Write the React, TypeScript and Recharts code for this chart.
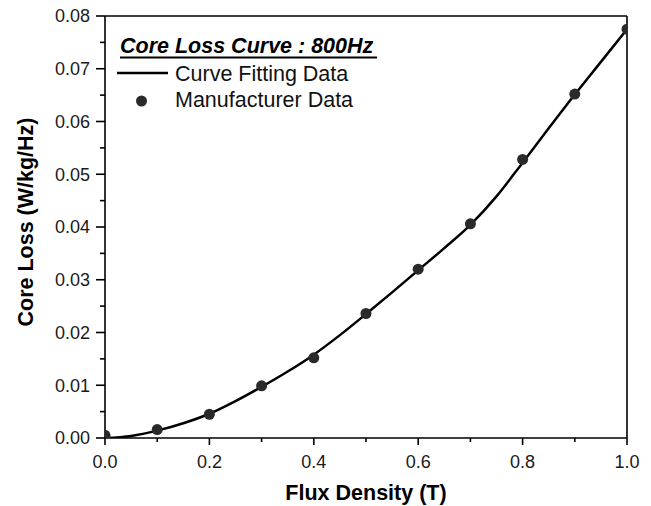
import React from 'react';
import { ComposedChart, Line, Scatter, XAxis, YAxis, ReferenceLine, Legend } from 'recharts';

const FONT = '"Liberation Sans", Arial, Helvetica, sans-serif';

// Manufacturer data (points)
const MFR_B = [0, 0.1, 0.2, 0.3, 0.4, 0.5, 0.6, 0.7, 0.8, 0.9, 1.0];
const MFR_LOSS = [0.0005, 0.0016, 0.0045, 0.0099, 0.0152, 0.0236, 0.032, 0.0406, 0.0528, 0.0652, 0.0775];

// Curve fitting data (line)
const FIT_B = [0, 0.05, 0.1, 0.15, 0.2, 0.25, 0.3, 0.35, 0.4, 0.45, 0.5, 0.55, 0.6, 0.65, 0.7, 0.75, 0.8, 0.85, 0.9, 0.95, 1.0];
const FIT_LOSS = [0, 0.0004, 0.0014, 0.0028, 0.0046, 0.007, 0.0097, 0.0126, 0.0158, 0.0195, 0.0235, 0.0276, 0.0318, 0.036, 0.0404, 0.0458, 0.0522, 0.0587, 0.0651, 0.0713, 0.0775];

const X_TICKS = [0, 0.1, 0.2, 0.3, 0.4, 0.5, 0.6, 0.7, 0.8, 0.9, 1.0];
const Y_TICKS = [0, 0.005, 0.01, 0.015, 0.02, 0.025, 0.03, 0.035, 0.04, 0.045, 0.05, 0.055, 0.06, 0.065, 0.07, 0.075, 0.08];

const LEGEND_TITLE = 'Core Loss Curve : 800Hz';
const FIT_NAME = 'Curve Fitting Data';
const MFR_NAME = 'Manufacturer Data';
const X_TITLE = 'Flux Density (T)';
const Y_TITLE = 'Core Loss (W/kg/Hz)';

const mfrData = MFR_B.map((b, i) => ({ x: b, y: MFR_LOSS[i] }));
const fitData = FIT_B.map((b, i) => ({ x: b, y: FIT_LOSS[i] }));

const XTick = (props: any) => {
  const { x, y, payload } = props;
  const v = payload.value;
  const major = Math.round(v * 10) % 2 === 0;
  return (
    <g>
      <line x1={x} x2={x} y1={y} y2={y + (major ? 7 : 4)} stroke="#000" strokeWidth={1.6} />
      {major && (
        <text x={x} y={y + 30} textAnchor="middle" fontFamily={FONT} fontSize={18} fill="#1a1a1a">
          {v.toFixed(1)}
        </text>
      )}
    </g>
  );
};

const YTick = (props: any) => {
  const { x, y, payload } = props;
  const v = payload.value;
  const major = Math.abs(Math.round(v * 100) - v * 100) < 1e-6;
  return (
    <g>
      <line x1={x - (major ? 9 : 5)} x2={x} y1={y} y2={y} stroke="#000" strokeWidth={1.6} />
      {major && (
        <text x={x - 15} y={y} dy="0.36em" textAnchor="end" fontFamily={FONT} fontSize={18} fill="#1a1a1a">
          {v.toFixed(2)}
        </text>
      )}
    </g>
  );
};

const renderLegend = () => (
  <svg width={290} height={100} style={{ display: 'block' }}>
    <text x={20} y={33} fontFamily={FONT} fontSize={21.5} fontWeight="bold" fontStyle="italic" fill="#000">
      {LEGEND_TITLE}
    </text>
    <line x1={20} x2={277} y1={37.5} y2={37.5} stroke="#000" strokeWidth={2} />
    <line x1={17} x2={68} y1={53} y2={53} stroke="#000" strokeWidth={2.5} />
    <text x={75} y={61} fontFamily={FONT} fontSize={21.5} fill="#111">
      {FIT_NAME}
    </text>
    <circle cx={41.5} cy={81} r={5.5} fill="#2a2a2a" />
    <text x={75} y={87} fontFamily={FONT} fontSize={21.5} fill="#111">
      {MFR_NAME}
    </text>
  </svg>
);

const Dot = (props: any) => {
  const { cx, cy } = props;
  return <circle cx={cx} cy={cy} r={5.5} fill="#2a2a2a" />;
};

const YTitle = () => {
  const cx = 25;
  const cy = 222;
  return (
    <text
      x={cx}
      y={cy}
      dy="0.36em"
      transform={`rotate(-90 ${cx} ${cy})`}
      textAnchor="middle"
      fontFamily={FONT}
      fontSize={21.5}
      fontWeight="bold"
      fill="#000"
    >
      {Y_TITLE}
    </text>
  );
};

const XTitle = (props: any) => {
  const vb = props.viewBox;
  return (
    <text x={vb.x + vb.width / 2} y={500} textAnchor="middle" fontFamily={FONT} fontSize={21.5} fontWeight="bold" fill="#000">
      {X_TITLE}
    </text>
  );
};

export default function App() {
  return (
    <div style={{ position: 'absolute', left: 0, top: 0, width: 651, height: 506, background: '#fff' }}>
      <ComposedChart width={651} height={506} margin={{ top: 16, right: 24, bottom: 0, left: 0 }}>
        <XAxis
          type="number"
          dataKey="x"
          domain={[0, 1]}
          ticks={X_TICKS}
          allowDataOverflow
          height={68}
          tickSize={0}
          tickMargin={0}
          tick={<XTick />}
          axisLine={{ stroke: '#000', strokeWidth: 1.6 }}
          tickLine={false}
          interval={0}
          label={<XTitle />}
        />
        <YAxis
          type="number"
          dataKey="y"
          domain={[0, 0.08]}
          ticks={Y_TICKS}
          allowDataOverflow
          width={105}
          tickSize={0}
          tickMargin={0}
          tick={<YTick />}
          axisLine={{ stroke: '#000', strokeWidth: 1.6 }}
          tickLine={false}
          interval={0}
          label={<YTitle />}
        />
        <ReferenceLine y={0.08} stroke="#000" strokeWidth={1.6} />
        <ReferenceLine x={1} stroke="#000" strokeWidth={1.6} />
        <Line
          data={fitData}
          dataKey="y"
          type="monotone"
          stroke="#000"
          strokeWidth={2.5}
          dot={false}
          activeDot={false}
          isAnimationActive={false}
          name={FIT_NAME}
        />
        <Scatter data={mfrData} dataKey="y" fill="#2a2a2a" shape={<Dot />} isAnimationActive={false} name={MFR_NAME} />
        <Legend
          layout="vertical"
          align="center"
          verticalAlign="middle"
          content={renderLegend}
          wrapperStyle={{ position: 'absolute', left: 100, top: 20, width: 290, height: 100 }}
        />
      </ComposedChart>
    </div>
  );
}
